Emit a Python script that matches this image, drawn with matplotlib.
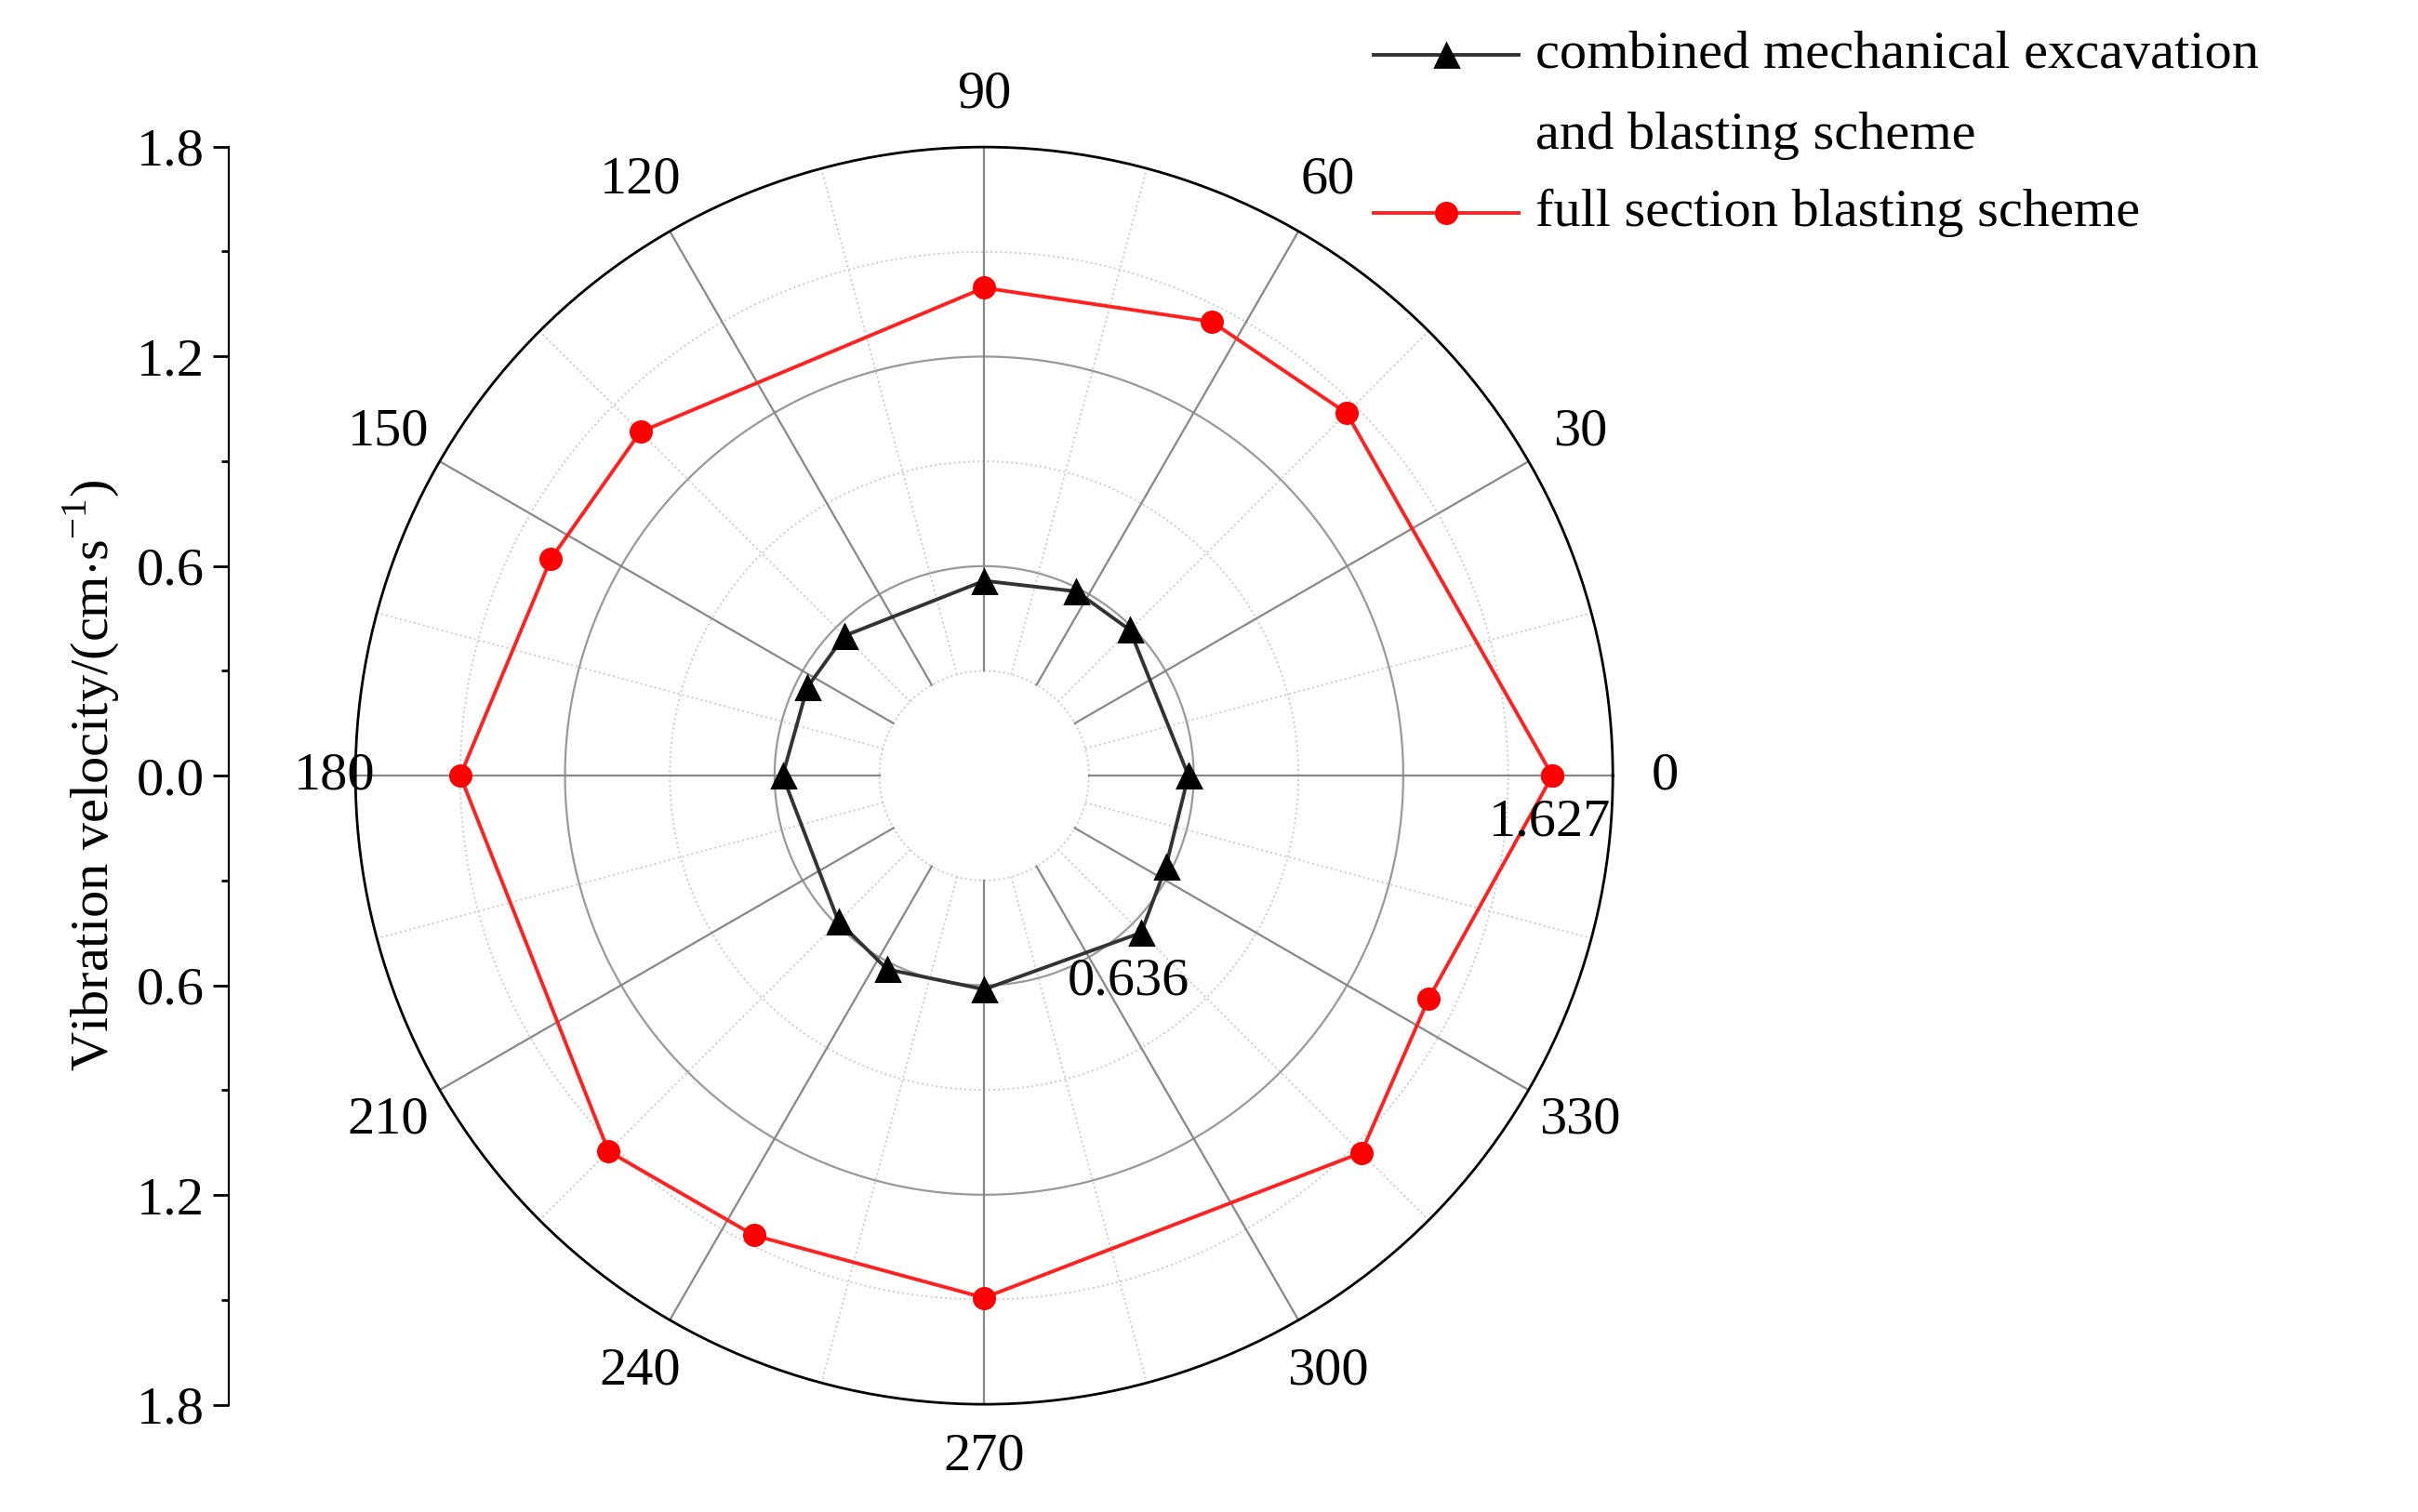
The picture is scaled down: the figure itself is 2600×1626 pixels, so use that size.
import numpy as np
import matplotlib
matplotlib.use("Agg")
import matplotlib.pyplot as plt
from matplotlib.lines import Line2D

plt.rcParams['font.family'] = ['Liberation Serif', 'DejaVu Serif']
plt.rcParams['mathtext.fontset'] = 'custom'
plt.rcParams['mathtext.rm'] = 'Liberation Serif'
FS = 21

angles_deg = [0, 45, 63.4, 90, 135, 153.4, 180, 225, 243.4, 270, 315, 333.4]
combined = [0.585, 0.59, 0.59, 0.558, 0.566, 0.566, 0.577, 0.59, 0.62, 0.612, 0.636, 0.582]
full = [1.627, 1.468, 1.454, 1.397, 1.392, 1.387, 1.50, 1.521, 1.472, 1.495, 1.527, 1.424]
angle_labels = [0, 30, 60, 90, 120, 150, 180, 210, 240, 270, 300, 330]
left_ticks = [-1.8, -1.2, -0.6, 0.0, 0.6, 1.2, 1.8]
label_combined = "combined mechanical excavation\nand blasting scheme"
label_full = "full section blasting scheme"

fig = plt.figure(figsize=(13, 8.13), dpi=200)
cx, cy, rw, rh = 0.407, 0.487, 0.260, 0.416
ax = fig.add_axes([cx - rw, cy - rh, 2 * rw, 2 * rh], projection='polar')
ax.set_ylim(0, 1.8)
ax.grid(False)
ax.set_xticks([]); ax.set_yticks([])
ax.spines['polar'].set_linewidth(1.0)

tt = np.linspace(0, 2 * np.pi, 400)
for r in [0.3, 0.6, 0.9, 1.2, 1.5]:
    if r in (0.6, 1.2):
        ax.plot(tt, [r] * len(tt), color='#999999', lw=0.8, zorder=1)
    else:
        ax.plot(tt, [r] * len(tt), color='#cccccc', lw=0.7, ls=':', zorder=1)
for a in range(0, 360, 15):
    th = np.deg2rad(a)
    if a % 30 == 0:
        ax.plot([th, th], [0.3, 1.8], color='#888888', lw=0.8, zorder=1)
    else:
        ax.plot([th, th], [0.3, 1.8], color='#cccccc', lw=0.7, ls=':', zorder=1)

th = np.deg2rad(angles_deg + [angles_deg[0]])
ax.plot(th, combined + [combined[0]], color='#333333', lw=1.4, marker='^', ms=9,
        mfc='black', mec='black', zorder=3)
ax.plot(th, full + [full[0]], color='#ff2020', lw=1.4, marker='o', ms=8,
        mfc='#ff0000', mec='#ff0000', zorder=3)

for a in angle_labels:
    t = np.deg2rad(a)
    r = 1.97 if a % 90 else 1.95
    if a == 180:
        r = 1.86
    ax.text(t, r, str(a), ha='center', va='center', fontsize=FS, clip_on=False)
ax.text(np.deg2rad(-4.7), 1.625, "1.627", ha='center', va='center', fontsize=FS)
ax.text(np.deg2rad(-67.9), 0.635, "0.636", ha='left', va='center', fontsize=FS)

lax = fig.add_axes([0.0947, cy - rh, 0.01, 2 * rh])
lax.set_ylim(-1.8, 1.8)
lax.set_yticks(left_ticks)
lax.set_yticklabels([f"{abs(v):.1f}" for v in left_ticks], fontsize=FS)
lax.set_yticks(np.arange(-1.8, 1.81, 0.3), minor=True)
for s in ['top', 'right', 'bottom']:
    lax.spines[s].set_visible(False)
lax.set_xticks([])
lax.patch.set_alpha(0)
lax.tick_params(axis='y', which='major', length=6, width=1)
lax.tick_params(axis='y', which='minor', length=3, width=1)
lax.set_ylabel(r"Vibration velocity/(cm$\cdot$s$^{\mathrm{-1}}$)", fontsize=FS, labelpad=6)

fig.add_artist(Line2D([0.568, 0.628], [0.964, 0.964], color='#333333', lw=1.4))
fig.add_artist(Line2D([0.598], [0.964], marker='^', color='black', ms=9))
fig.text(0.635, 0.964, "combined mechanical excavation", fontsize=FS, va='center', ha='left')
fig.text(0.635, 0.910, "and blasting scheme", fontsize=FS, va='center', ha='left')
fig.add_artist(Line2D([0.568, 0.628], [0.859, 0.859], color='#ff2020', lw=1.4))
fig.add_artist(Line2D([0.598], [0.859], marker='o', color='#ff0000', ms=8))
fig.text(0.635, 0.859, label_full, fontsize=FS, va='center', ha='left')

fig.savefig("out.png", dpi=200)
